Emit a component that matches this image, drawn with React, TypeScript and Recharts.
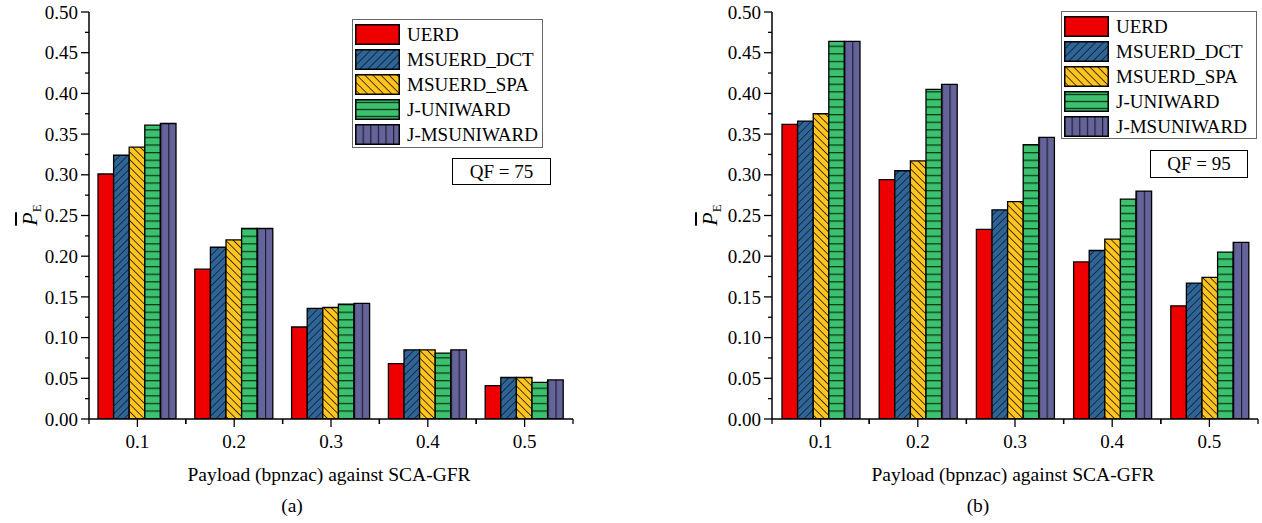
import React from "react"
import { BarChart, Bar, XAxis, YAxis } from "recharts"

const payloads = ["0.1", "0.2", "0.3", "0.4", "0.5"]

// QF = 75
const uerd75 = [0.301, 0.184, 0.113, 0.068, 0.041]
const dct75 = [0.324, 0.211, 0.136, 0.085, 0.051]
const spa75 = [0.334, 0.22, 0.137, 0.085, 0.051]
const juni75 = [0.361, 0.234, 0.141, 0.081, 0.045]
const jms75 = [0.363, 0.234, 0.142, 0.085, 0.048]

// QF = 95
const uerd95 = [0.362, 0.294, 0.233, 0.193, 0.139]
const dct95 = [0.366, 0.305, 0.257, 0.207, 0.167]
const spa95 = [0.375, 0.317, 0.267, 0.221, 0.174]
const juni95 = [0.464, 0.405, 0.337, 0.27, 0.205]
const jms95 = [0.464, 0.411, 0.346, 0.28, 0.217]

const yTicks = [
  0, 0.025, 0.05, 0.075, 0.1, 0.125, 0.15, 0.175, 0.2, 0.225, 0.25, 0.275, 0.3, 0.325, 0.35, 0.375, 0.4,
  0.425, 0.45, 0.475, 0.5,
]

const seriesNames = ["UERD", "MSUERD_DCT", "MSUERD_SPA", "J-UNIWARD", "J-MSUNIWARD"]
const barFills = ["#EE0000", "url(#bDct)", "url(#bSpa)", "url(#bUni)", "url(#bJms)"]
const legendFills = ["#EE0000", "url(#lDct)", "url(#lSpa)", "url(#lUni)", "url(#lJms)"]

const FONT = '"Liberation Serif", "Times New Roman", serif'

function buildRows(cols: number[][]) {
  return payloads.map((p, i) => {
    const row: any = { payload: p }
    seriesNames.forEach((n, k) => {
      row[n] = cols[k][i]
    })
    return row
  })
}

const rows75 = buildRows([uerd75, dct75, spa75, juni75, jms75])
const rows95 = buildRows([uerd95, dct95, spa95, juni95, jms95])

function isMajor(v: number) {
  return Math.round(v * 1000) % 50 === 0
}

const LeftTick = (props: any) => {
  const { x, y, payload } = props
  const major = isMajor(payload.value)
  return (
    <g>
      <line x1={x} x2={x - (major ? 8 : 4)} y1={y} y2={y} stroke="#000" strokeWidth={1.3} />
      {major && (
        <text x={x - 11} y={y} dy="0.35em" textAnchor="end" fontSize={19} fontFamily={FONT} fill="#000">
          {payload.value.toFixed(2)}
        </text>
      )}
    </g>
  )
}

const RightTick = (props: any) => {
  const { x, y, payload } = props
  const major = isMajor(payload.value)
  return <line x1={x} x2={x - (major ? 8 : 4)} y1={y} y2={y} stroke="#000" strokeWidth={1.3} />
}

const TopTick = (props: any) => {
  const { x, y } = props
  return <line x1={x} x2={x} y1={y} y2={y + 7} stroke="#000" strokeWidth={1.3} />
}

function makeBottomTick(band: number) {
  return (props: any) => {
    const { x, y, payload } = props
    return (
      <g>
        <line x1={x} x2={x} y1={y} y2={y + 8} stroke="#000" strokeWidth={1.3} />
        <line x1={x - band / 2} x2={x - band / 2} y1={y} y2={y + 5} stroke="#000" strokeWidth={1.3} />
        <line x1={x + band / 2} x2={x + band / 2} y1={y} y2={y + 5} stroke="#000" strokeWidth={1.3} />
        <text x={x} y={y + 29} textAnchor="middle" fontSize={19} fontFamily={FONT} fill="#000">
          {payload.value}
        </text>
      </g>
    )
  }
}

function Patterns() {
  return (
    <svg width={0} height={0} style={{ position: "absolute" }}>
      <defs>
        <pattern id="bDct" width={5.4} height={5.4} patternUnits="userSpaceOnUse" patternTransform="rotate(45)">
          <rect width={5.4} height={5.4} fill="#2F6496" />
          <line x1={0} y1={0} x2={0} y2={5.4} stroke="#101C2E" strokeWidth={1.6} />
        </pattern>
        <pattern id="bSpa" width={5.4} height={5.4} patternUnits="userSpaceOnUse" patternTransform="rotate(-45)">
          <rect width={5.4} height={5.4} fill="#FFC41F" />
          <line x1={0} y1={0} x2={0} y2={5.4} stroke="#1A1400" strokeWidth={1.6} />
        </pattern>
        <pattern id="bUni" width={8} height={7.6} patternUnits="userSpaceOnUse">
          <rect width={8} height={7.6} fill="#3CC26F" />
          <line x1={0} y1={0.6} x2={8} y2={0.6} stroke="#0E3A1C" strokeWidth={1.4} />
        </pattern>
        <pattern id="bJms" width={0.5} height={1} patternUnits="objectBoundingBox">
          <rect width={40} height={500} fill="#64649A" />
          <line x1={0.5} y1={0} x2={0.5} y2={500} stroke="#1E1E38" strokeWidth={1.4} />
        </pattern>
        <pattern id="lDct" width={5.7} height={5.7} patternUnits="userSpaceOnUse" patternTransform="rotate(45)">
          <rect width={5.7} height={5.7} fill="#2F6496" />
          <line x1={0} y1={0} x2={0} y2={5.7} stroke="#101C2E" strokeWidth={1.6} />
        </pattern>
        <pattern id="lSpa" width={5.7} height={5.7} patternUnits="userSpaceOnUse" patternTransform="rotate(-45)">
          <rect width={5.7} height={5.7} fill="#FFC41F" />
          <line x1={0} y1={0} x2={0} y2={5.7} stroke="#1A1400" strokeWidth={1.6} />
        </pattern>
        <pattern id="lUni" width={8} height={7} patternUnits="userSpaceOnUse">
          <rect width={8} height={7} fill="#3CC26F" />
          <line x1={0} y1={3.5} x2={8} y2={3.5} stroke="#0E3A1C" strokeWidth={1.4} />
        </pattern>
        <pattern id="lJms" width={7.6} height={8} patternUnits="userSpaceOnUse">
          <rect width={7.6} height={8} fill="#64649A" />
          <line x1={0.5} y1={0} x2={0.5} y2={8} stroke="#1E1E38" strokeWidth={1.4} />
        </pattern>
      </defs>
    </svg>
  )
}

interface PanelProps {
  rows: any[]
  left: number
  width: number
  plotLeft: number
  plotRight: number
  qf: string
  qfBox: { x: number; y: number; w: number; h: number }
  legendBox: { x: number; y: number; w: number; h: number }
  yLabelX: number
  letter: string
  letterX: number
}

function Panel(p: PanelProps) {
  const yAxisWidth = 60
  const plotW = p.plotRight - p.plotLeft
  const BottomTick = makeBottomTick(plotW / 5)
  const margin = {
    top: 12,
    bottom: 74,
    left: p.plotLeft - p.left - yAxisWidth,
    right: p.left + p.width - p.plotRight,
  }
  const midX = (p.plotLeft + p.plotRight) / 2
  return (
    <>
      <div style={{ position: "absolute", left: p.left, top: 0 }}>
        <BarChart width={p.width} height={523} data={p.rows} margin={margin} barSize={15.6} barGap={0}>
          <XAxis
            dataKey="payload"
            height={30}
            interval={0}
            tickSize={0}
            tickMargin={0}
            tickLine={false}
            tick={BottomTick}
            axisLine={{ stroke: "#000", strokeWidth: 1.5 }}
          />
          <XAxis
            xAxisId="top"
            dataKey="payload"
            orientation="top"
            height={0}
            interval={0}
            tickSize={0}
            tickMargin={0}
            tickLine={false}
            tick={TopTick}
            axisLine={{ stroke: "#000", strokeWidth: 1.5 }}
          />
          <YAxis
            width={yAxisWidth}
            domain={[0, 0.5]}
            ticks={yTicks}
            interval={0}
            allowDataOverflow
            tickSize={0}
            tickMargin={0}
            tickLine={false}
            tick={LeftTick}
            axisLine={{ stroke: "#000", strokeWidth: 1.5 }}
          />
          <YAxis
            yAxisId="right"
            orientation="right"
            width={0}
            domain={[0, 0.5]}
            ticks={yTicks}
            interval={0}
            allowDataOverflow
            tickSize={0}
            tickMargin={0}
            tickLine={false}
            tick={RightTick}
            axisLine={{ stroke: "#000", strokeWidth: 1.5 }}
          />
          {seriesNames.map((n, k) => (
            <Bar
              key={n}
              dataKey={n}
              fill={barFills[k]}
              stroke="#000"
              strokeWidth={1.3}
              isAnimationActive={false}
            />
          ))}
        </BarChart>
      </div>

      <div
        style={{
          position: "absolute",
          left: p.legendBox.x,
          top: p.legendBox.y,
          width: p.legendBox.w,
          height: p.legendBox.h,
          border: "1px solid #666",
          background: "#fff",
          boxSizing: "border-box",
          fontFamily: FONT,
          fontSize: 19,
          color: "#000",
        }}
      >
        {seriesNames.map((n, k) => (
          <div
            key={n}
            style={{
              position: "absolute",
              left: 2,
              top: 4 + k * 25,
              height: 21,
              display: "flex",
              alignItems: "center",
              whiteSpace: "nowrap",
            }}
          >
            <svg width={45} height={21} style={{ display: "block" }}>
              <rect x={0.75} y={0.75} width={43.5} height={19.5} fill={legendFills[k]} stroke="#000" strokeWidth={1.5} />
            </svg>
            <span style={{ marginLeft: 7, lineHeight: "21px" }}>{n}</span>
          </div>
        ))}
      </div>

      <div
        style={{
          position: "absolute",
          left: p.qfBox.x,
          top: p.qfBox.y,
          width: p.qfBox.w,
          height: p.qfBox.h,
          border: "1px solid #000",
          boxSizing: "border-box",
          background: "#fff",
          fontFamily: FONT,
          fontSize: 19,
          display: "flex",
          alignItems: "center",
          justifyContent: "center",
        }}
      >
        {p.qf}
      </div>

      <div
        style={{
          position: "absolute",
          left: p.yLabelX,
          top: 215,
          transform: "translate(-50%, -50%) rotate(-90deg)",
          fontFamily: FONT,
          fontSize: 22,
          whiteSpace: "nowrap",
          lineHeight: 1,
        }}
      >
        <span style={{ fontStyle: "italic", textDecoration: "overline" }}>P</span>
        <span style={{ fontSize: 13, position: "relative", top: 4 }}>E</span>
      </div>

      <div
        style={{
          position: "absolute",
          left: midX - 2,
          top: 475,
          transform: "translate(-50%, -50%)",
          fontFamily: FONT,
          fontSize: 19.5,
          whiteSpace: "nowrap",
        }}
      >
        Payload (bpnzac) against SCA-GFR
      </div>
      <div
        style={{
          position: "absolute",
          left: p.letterX,
          top: 506,
          transform: "translate(-50%, -50%)",
          fontFamily: FONT,
          fontSize: 19.5,
          whiteSpace: "nowrap",
        }}
      >
        {p.letter}
      </div>
    </>
  )
}

export default function App() {
  return (
    <div style={{ position: "absolute", left: 0, top: 0, width: 1262, height: 523, background: "#fff" }}>
      <Patterns />
      <Panel
        rows={rows75}
        left={0}
        width={600}
        plotLeft={89}
        plotRight={573}
        qf="QF = 75"
        qfBox={{ x: 452, y: 158, w: 99, h: 27 }}
        legendBox={{ x: 352, y: 19, w: 191, h: 129 }}
        yLabelX={30}
        letter="(a)"
        letterX={292}
      />
      <Panel
        rows={rows95}
        left={680}
        width={582}
        plotLeft={772}
        plotRight={1258}
        qf="QF = 95"
        qfBox={{ x: 1150, y: 150, w: 98, h: 28 }}
        legendBox={{ x: 1061, y: 11, w: 196, h: 128 }}
        yLabelX={710}
        letter="(b)"
        letterX={978}
      />
    </div>
  )
}
